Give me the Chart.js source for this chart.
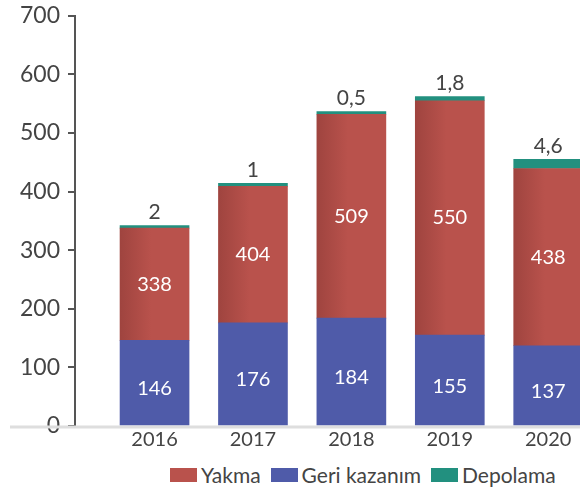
<!DOCTYPE html>
<html>
<head>
<meta charset="utf-8">
<script src="https://cdn.jsdelivr.net/npm/chart.js@4.4.1/dist/chart.umd.min.js"></script>
<style>
  html, body { margin: 0; padding: 0; background: #fff; overflow: hidden; }
  #wrap { position: relative; width: 580px; height: 492px; overflow: hidden; }
  #chart_canvas { position: absolute; left: 0; top: -6px; }
  #legend { position: absolute; left: 170px; top: 462px; display: flex; align-items: center;
            font-family: Lato, sans-serif; font-size: 21px; color: #444; }
  #legend span.box { display: inline-block; width: 27px; height: 14px; margin-right: 4px; }
  #legend span.item { display: flex; align-items: center; margin-right: 10px; }
</style>
</head>
<body>
<div id="wrap">
  <canvas id="chart_canvas" width="580" height="465"></canvas>
  <div id="legend"></div>
</div>
<script>
const years = ['2016', '2017', '2018', '2019', '2020'];

// segment heights as drawn in the picture
const geriKazanim = [146, 176, 184, 155, 137];
const yakma = [191.6, 233, 348, 400, 302.4];
const depolama = [4.4, 5, 4.5, 7, 15.6];

// printed labels
const geriLabels = ['146', '176', '184', '155', '137'];
const yakmaLabels = ['338', '404', '509', '550', '438'];
const depolamaLabels = ['2', '1', '0,5', '1,8', '4,6'];

const yTicks = [0, 100, 200, 300, 400, 500, 600, 700];

const red = '#b9524c';
const redDark = '#9f443f';
const blue = '#4f5ba9';
const teal = '#22907f';
const textColor = '#444';
const fontFamily = 'Lato, sans-serif';

const legendItems = [
  { name: 'Yakma', color: red },
  { name: 'Geri kazanım', color: blue },
  { name: 'Depolama', color: teal }
];
const legendEl = document.getElementById('legend');
legendItems.forEach(it => {
  const s = document.createElement('span');
  s.className = 'item';
  s.innerHTML = '<span class="box" style="background:' + it.color + '"></span>' + it.name;
  legendEl.appendChild(s);
});

const toPoints = arr => arr.map((v, i) => ({ x: i, y: v }));

function redGradient(c) {
  const chart = c.chart;
  const xs = chart.scales && chart.scales.x;
  if (!xs || c.dataIndex === undefined) return red;
  const cx = xs.getPixelForValue(c.dataIndex);
  if (!Number.isFinite(cx)) return red;
  const g = chart.ctx.createLinearGradient(cx - 34.5, 0, cx + 34.5, 0);
  g.addColorStop(0, redDark);
  g.addColorStop(0.45, red);
  g.addColorStop(1, red);
  return g;
}

const baseline = {
  id: 'baseline',
  beforeDatasetsDraw(chart) {
    const ctx = chart.ctx;
    const y = chart.scales.y.getPixelForValue(0) + 1;
    ctx.save();
    ctx.strokeStyle = '#dedede';
    ctx.lineWidth = 3;
    ctx.beginPath();
    ctx.moveTo(10, y);
    ctx.lineTo(chart.width, y);
    ctx.stroke();
    ctx.restore();
  }
};

const valueLabels = {
  id: 'valueLabels',
  afterDatasetsDraw(chart) {
    const ctx = chart.ctx;
    ctx.save();
    ctx.textAlign = 'center';
    ctx.textBaseline = 'middle';
    const blueMeta = chart.getDatasetMeta(0);
    const redMeta = chart.getDatasetMeta(1);
    const tealMeta = chart.getDatasetMeta(2);
    years.forEach((y, i) => {
      const bb = blueMeta.data[i], rb = redMeta.data[i], tb = tealMeta.data[i];
      ctx.font = '20px ' + fontFamily;
      ctx.fillStyle = '#fff';
      ctx.fillText(geriLabels[i], bb.x, (bb.y + bb.base) / 2 + 6);
      ctx.fillText(yakmaLabels[i], rb.x, (rb.y + rb.base) / 2);
      ctx.font = '21px ' + fontFamily;
      ctx.fillStyle = textColor;
      ctx.fillText(depolamaLabels[i], tb.x, tb.y - 13);
    });
    ctx.restore();
  }
};

new Chart(document.getElementById('chart_canvas'), {
  type: 'bar',
  data: {
    datasets: [
      { label: 'Geri kazanım', data: toPoints(geriKazanim), backgroundColor: blue },
      { label: 'Yakma', data: toPoints(yakma), backgroundColor: redGradient },
      { label: 'Depolama', data: toPoints(depolama), backgroundColor: teal }
    ]
  },
  options: {
    responsive: false,
    animation: false,
    barThickness: 69,
    layout: { padding: { left: 12, right: 0, top: 0, bottom: 5 } },
    plugins: { legend: { display: false }, tooltip: { enabled: false } },
    scales: {
      x: {
        type: 'linear',
        stacked: true,
        offset: false,
        min: -0.808,
        max: 4.323,
        grid: { display: false, drawTicks: false, offset: false },
        border: { display: false },
        afterBuildTicks: s => { s.ticks = years.map((y, i) => ({ value: i })); },
        ticks: {
          color: textColor,
          font: { family: fontFamily, size: 20 },
          padding: 2,
          callback: v => years[v] || ''
        }
      },
      y: {
        stacked: true,
        min: 0,
        max: 700,
        afterBuildTicks: s => { s.ticks = yTicks.map(v => ({ value: v })); },
        border: { display: true, color: '#555', width: 2 },
        grid: { drawOnChartArea: false, drawTicks: true, tickLength: 7, color: '#555', lineWidth: 2 },
        ticks: {
          color: textColor,
          font: { family: fontFamily, size: 23 },
          padding: 8
        }
      }
    }
  },
  plugins: [baseline, valueLabels]
});
</script>
</body>
</html>
